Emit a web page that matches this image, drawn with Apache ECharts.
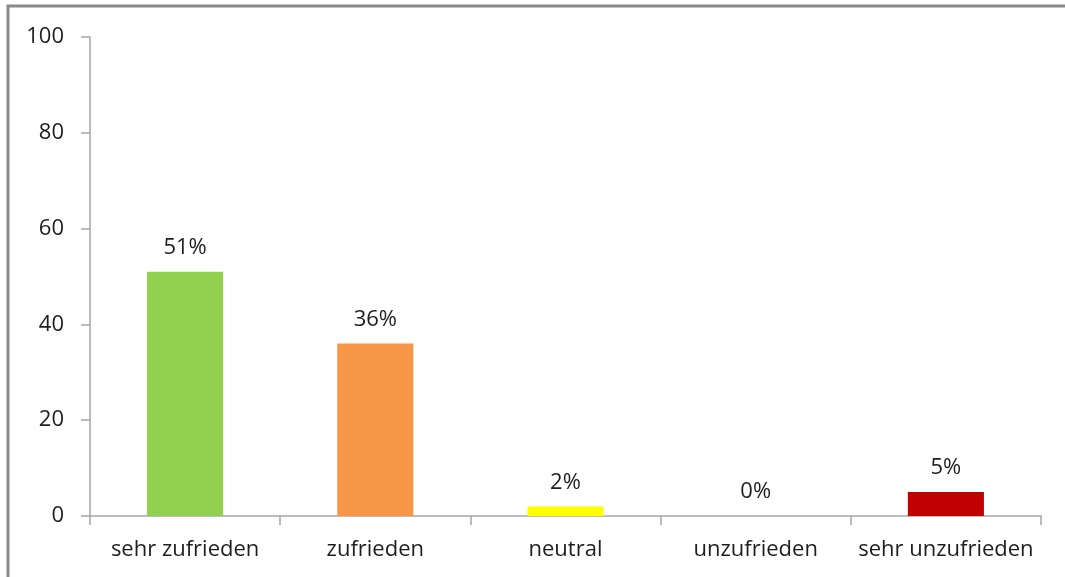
<!DOCTYPE html>
<html>
<head>
<meta charset="utf-8">
<script src="https://cdn.jsdelivr.net/npm/echarts@6/dist/echarts.min.js"></script>
<style>
    html, body { margin: 0; padding: 0; background: #fff; }
    #chart { width: 1065px; height: 577px; }
</style>
</head>
<body>
<div id="chart"></div>
<script>
// Daten
var categories = ["sehr zufrieden", "zufrieden", "neutral", "unzufrieden", "sehr unzufrieden"];
var values = [51, 36, 2, 0, 5];
var labels = ["51%", "36%", "2%", "0%", "5%"];
var barColors = ["#92D050", "#F79646", "#FFFF00", "#4F81BD", "#C00000"];
var yTicks = [0, 20, 40, 60, 80, 100];

var chart = echarts.init(document.getElementById("chart"));

var seriesData = [];
for (var i = 0; i < values.length; i++) {
    seriesData.push({
        value: values[i],
        itemStyle: { color: barColors[i] }
    });
}

var option = {
    animation: false,
    textStyle: { fontFamily: "Open Sans" },
    graphic: [
        {
            type: "rect",
            shape: { x: 8, y: 6, width: 1100, height: 620 },
            style: { fill: null, stroke: "#8a8a8a", lineWidth: 3 },
            silent: true
        }
    ],
    grid: {
        left: 90,
        right: 24,
        top: 37,
        bottom: 61,
        containLabel: false
    },
    xAxis: {
        type: "category",
        data: categories,
        axisLine: { lineStyle: { color: "#a6a6a6", width: 1.5 } },
        axisTick: { show: true, alignWithLabel: false, length: 9, lineStyle: { color: "#a6a6a6", width: 1.5 } },
        axisLabel: { color: "#1e1e1e", fontSize: 22, margin: 23, interval: 0 }
    },
    yAxis: {
        type: "value",
        min: yTicks[0],
        max: yTicks[yTicks.length - 1],
        interval: 20,
        splitLine: { show: false },
        axisLine: { show: true, lineStyle: { color: "#a6a6a6", width: 1.5 } },
        axisTick: { show: true, length: 9, lineStyle: { color: "#a6a6a6", width: 1.5 } },
        axisLabel: { color: "#1e1e1e", fontSize: 22, margin: 26 }
    },
    series: [
        {
            type: "bar",
            data: seriesData,
            barWidth: "40%",
            label: {
                show: true,
                position: "top",
                distance: 13,
                color: "#1e1e1e",
                fontSize: 22,
                formatter: function (p) {
                    return labels[p.dataIndex];
                }
            }
        }
    ]
};

chart.setOption(option);
</script>
</body>
</html>
